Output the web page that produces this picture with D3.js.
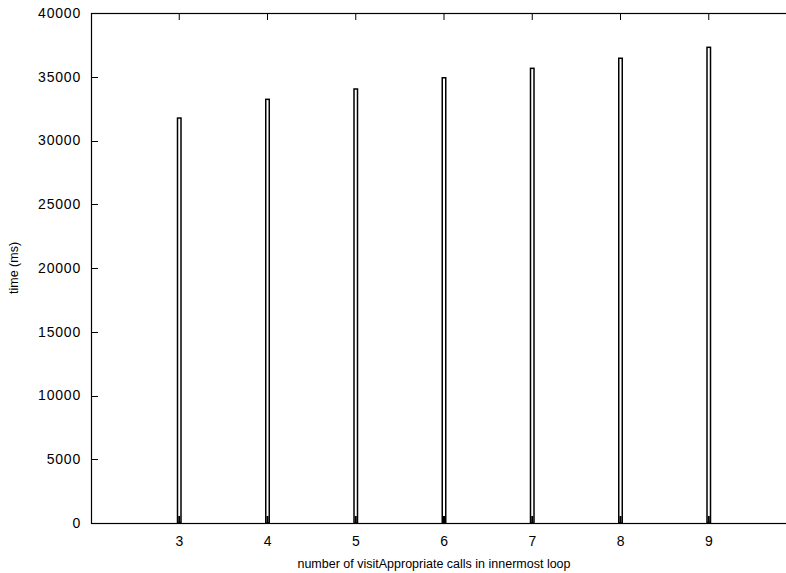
<!DOCTYPE html>
<html>
<head>
<meta charset="utf-8">
<script src="https://cdn.jsdelivr.net/npm/d3@7"></script>
<style>
  html, body { margin: 0; padding: 0; background: #fff; overflow: hidden; }
  svg { display: block; }
  text { font-family: "Liberation Sans", Arial, sans-serif; font-size: 12.5px; fill: #000; }
  .tick { font-size: 14px; letter-spacing: 0.8px; }
</style>
</head>
<body>
<div id="chart"></div>
<script>
// visitAppropriate calls per innermost loop vs run time
const calls = [3, 4, 5, 6, 7, 8, 9];
const times = [31760, 33230, 34040, 34920, 35660, 36450, 37310];
const yTicks = [0, 5000, 10000, 15000, 20000, 25000, 30000, 35000, 40000];

const width = 786, height = 573;
const margin = ({top: 13, right: -11, bottom: 50, left: 91});

const x = d3.scaleLinear([2, 10], [margin.left, width - margin.right]);
const y = d3.scaleLinear([0, 40000], [height - margin.bottom, margin.top]);

const svg = d3.select("#chart")
    .append("svg")
    .attr("width", width)
    .attr("height", height);

// bars (gnuplot style boxes, outlined)
svg.append("g")
    .attr("fill", "#fff")
    .attr("stroke", "#000")
    .attr("stroke-width", 1.5)
    .selectAll("rect")
    .data(calls)
    .join("rect")
    .attr("x", (d) => x(d) - 1.75)
    .attr("width", 3.5)
    .attr("y", (d, i) => y(times[i]))
    .attr("height", (d, i) => y(0) - y(times[i]));

// inward ticks
const ticks = svg.append("g").attr("stroke", "#000").attr("stroke-width", 1);
ticks.selectAll(".yl")
    .data(yTicks)
    .join("line")
    .attr("x1", margin.left).attr("x2", margin.left + 7)
    .attr("y1", (d) => Math.round(y(d)) + 0.5).attr("y2", (d) => Math.round(y(d)) + 0.5);
ticks.selectAll(".xb")
    .data(calls)
    .join("line")
    .attr("x1", (d) => x(d)).attr("x2", (d) => x(d))
    .attr("y1", y(0)).attr("y2", y(0) - 7)
    .attr("stroke-width", 2);
ticks.selectAll(".xt")
    .data(calls)
    .join("line")
    .attr("x1", (d) => x(d)).attr("x2", (d) => x(d))
    .attr("y1", margin.top).attr("y2", margin.top + 7);

// frame
svg.append("rect")
    .attr("x", margin.left + 0.5)
    .attr("y", margin.top + 0.5)
    .attr("width", x(10) - margin.left)
    .attr("height", y(0) - margin.top)
    .attr("fill", "none")
    .attr("stroke", "#000")
    .attr("stroke-width", 1.2);

// tick labels
svg.append("g")
    .attr("text-anchor", "end")
    .selectAll("text")
    .data(yTicks)
    .join("text")
    .attr("class", "tick")
    .attr("x", 81)
    .attr("y", (d) => y(d))
    .attr("dy", "0.35em")
    .text((d) => d);

svg.append("g")
    .attr("text-anchor", "middle")
    .selectAll("text")
    .data(calls)
    .join("text")
    .attr("class", "tick")
    .attr("x", (d) => x(d) + 0.5)
    .attr("y", 546)
    .text((d) => d);

// axis titles
svg.append("text")
    .attr("text-anchor", "middle")
    .attr("x", 434)
    .attr("y", 568)
    .text("number of visitAppropriate calls in innermost loop");

svg.append("text")
    .attr("text-anchor", "middle")
    .attr("transform", `translate(18,${(margin.top + y(0)) / 2}) rotate(-90)`)
    .text("time (ms)");
</script>
</body>
</html>
